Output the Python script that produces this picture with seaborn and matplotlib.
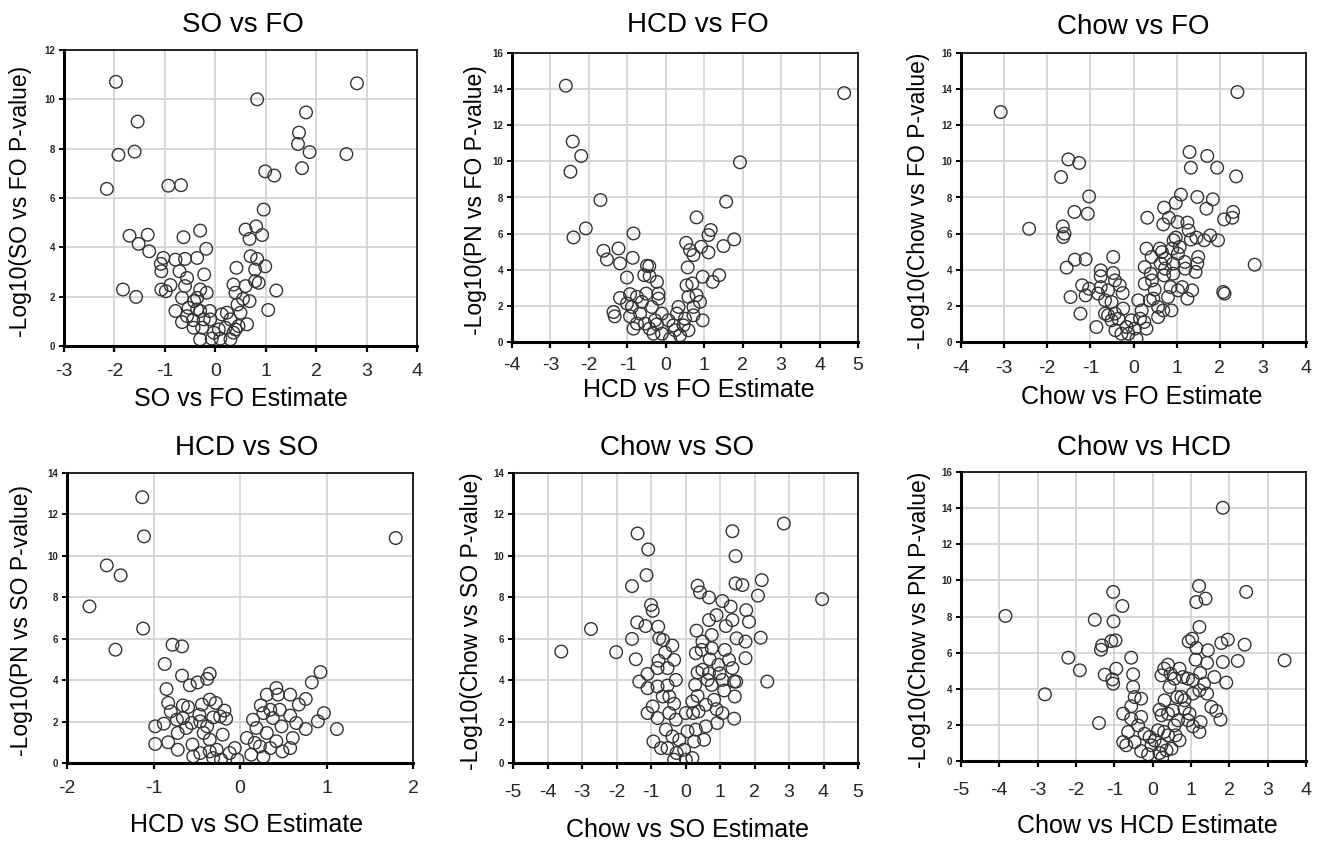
import seaborn as sns
import matplotlib.pyplot as plt
import pandas as pd

# ---- data (estimate, -log10 p) ----
so_fo_est = [-1.97, 2.81, 0.83, -1.54, 1.80, 1.66, 1.64, 1.87, 2.60, 1.72, -1.92, -1.60,
             -2.15, -0.93, -0.68, 0.99, 1.17, 0.96, 0.60, 0.81, 0.68, 0.93, -1.70, -1.34,
             -1.52, -1.31, -0.63, -0.30, -0.18, -1.83, -1.57, -1.03, -1.07, -1.08, -0.79,
             -0.71, -0.60, -0.56, -0.36, -0.22, -0.89, -1.07, -0.98, -0.17, -0.36, -0.42,
             -0.79, -0.66, -0.44, -0.30, -0.11, -0.26, -0.10, -0.30, -0.07, 0.10, 0.13,
             0.30, 0.20, 0.30, 0.36, 0.42, 0.40, 0.60, 0.55, 0.68, 0.44, 0.63, 0.70, 0.83,
             0.79, 0.99, 0.79, 0.86, 1.21, 1.05, -0.03, 0.07, -0.43, -0.56, -0.53, -0.36,
             -0.23, -0.66, -0.60, -0.30, 0.36, 0.46, 0.23, 0.50, 0.40]
so_fo_logp = [10.71, 10.65, 10.0, 9.1, 9.47, 8.65, 8.19, 7.86, 7.78, 7.21, 7.75, 7.88,
              6.37, 6.5, 6.52, 7.08, 6.91, 5.53, 4.72, 4.85, 4.34, 4.5, 4.47, 4.51,
              4.14, 3.84, 4.41, 4.68, 3.94, 2.29, 1.99, 3.57, 3.03, 3.33, 3.5,
              3.03, 3.53, 2.76, 3.57, 2.9, 2.47, 2.29, 2.22, 2.16, 1.95, 1.82,
              1.42, 0.97, 1.05, 1.42, 1.42, 0.74, 1.08, 0.27, 0.3, 0.3, 1.28,
              1.08, 0.74, 0.27, 2.49, 3.17, 2.16, 2.43, 1.91, 1.82, 1.68, 0.88, 3.64, 3.53,
              3.1, 3.23, 2.63, 2.56, 2.25, 1.46, 0.54, 0.67, 0.74, 1.21, 1.55, 1.48,
              1.08, 1.95, 2.43, 2.29, 0.54, 0.81, 1.35, 1.35, 0.67]

hcd_fo_est = [-2.60, 4.64, -2.42, -2.20, -2.48, 1.93, -1.70, 1.57, 0.80, -2.08, -2.40, -0.84,
              1.17, 1.11, 1.78, 1.50, 0.53, 0.63, 0.72, 0.92, 1.11, -1.62, -1.53, -1.23,
              -1.19, -0.86, -1.01, -0.49, -0.43, -0.56, -0.42, -0.23, 0.57, 0.96, 1.39,
              1.22, 0.54, 0.69, -1.19, -0.93, -1.36, -1.33, -0.93, -0.84, -0.75, -0.62,
              -0.51, -0.19, -0.19, -0.10, -0.23, -0.42, -0.32, -0.10, 0.11, 0.20, 0.33,
              0.29, 0.50, 0.59, 0.80, 0.72, 0.89, 0.96, 0.59, 0.37, -0.67, -0.75, -0.54,
              -1.01, -0.88, -0.36, -0.28, 0.07, 0.24, 0.72, 0.46]
hcd_fo_logp = [14.19, 13.78, 11.1, 10.3, 9.43, 9.95, 7.86, 7.77, 6.9, 6.29, 5.79, 6.01,
               6.2, 5.92, 5.68, 5.31, 5.49, 5.09, 4.81, 5.27, 4.96, 5.05, 4.57, 5.18,
               4.35, 4.66, 3.57, 4.22, 4.2, 3.7, 3.64, 3.33, 4.13, 3.61, 3.7,
               3.33, 3.14, 3.24, 2.44, 2.65, 1.66, 1.42, 1.42, 0.74, 2.5, 2.22,
               2.68, 2.68, 2.4, 1.57, 0.98, 0.74, 0.46, 0.46, 0.18, 0.92, 1.94,
               1.57, 1.29, 2.5, 2.59, 1.94, 2.22, 1.2, 0.65, 0.37, 1.57, 1.02, 1.02,
               2.13, 1.94, 1.94, 1.2, 1.2, 0.65, 1.48, 0.92]

chow_fo_est = [-3.08, 2.41, 1.30, 1.71, 1.33, 1.94, 2.38, -1.51, -1.26, -1.68, 1.48, 1.10,
               -1.03, 0.98, 0.71, 1.84, 1.69, 2.31, 2.29, 2.10, -1.37, -1.06, 0.32, 0.82,
               0.69, 1.02, 1.25, 1.28, -2.42, -1.64, -1.60, -1.63, 0.98, 0.93, 1.46, 1.64,
               1.78, 1.96, 1.33, 0.30, 0.61, 0.66, 0.90, 1.07, 0.74, 0.92, 1.19, 1.50,
               1.48, 1.44, 2.81, -0.47, -1.36, -1.11, -1.55, -0.76, -0.76, -0.47, -0.43,
               -0.32, -0.25, -1.19, -1.03, -1.11, -1.46, -1.23, -0.86, -0.66, -0.66, -0.59,
               -0.51, -0.43, -0.51, -0.42, -0.24, -0.28, -0.12, -0.16, 0.07, -0.05, 0.19,
               0.25, 0.30, 0.38, 0.26, 0.43, 0.49, 0.46, 0.57, 0.57, 0.69, 0.71, 0.73,
               0.63, 0.86, 0.80, 0.88, 0.92, 1.03, 1.13, 1.25, 1.36, 1.20, 1.03, 2.11,
               2.08, 0.42, 0.26, 0.40, 0.11, 0.03, 0.15, -0.35, -0.59, -0.82, -0.76]
chow_fo_logp = [12.73, 13.84, 10.52, 10.3, 9.65, 9.65, 9.17, 10.11, 9.91, 9.13, 8.03, 8.16,
                8.06, 7.7, 7.44, 7.9, 7.38, 7.2, 6.88, 6.79, 7.2, 7.1, 6.88, 6.88,
                6.51, 6.64, 6.61, 6.18, 6.27, 6.4, 6.0, 5.81, 5.78, 5.63, 5.78, 5.63,
                5.9, 5.63, 5.67, 5.17, 5.17, 4.98, 5.17, 5.26, 4.61, 4.34, 4.43, 4.71,
                4.34, 3.88, 4.28, 4.71, 4.56, 4.58, 4.12, 3.97, 3.64, 3.82, 3.41,
                3.14, 2.71, 3.14, 2.95, 2.58, 2.49, 1.57, 0.83, 2.31, 1.57, 2.86,
                2.21, 1.57, 1.2, 0.65, 1.85, 0.46, 0.46, 0.83, 0.18, 1.2, 1.75,
                1.11, 0.74, 2.31, 3.23, 3.41, 2.9, 2.4, 1.94, 1.38, 1.75, 3.69, 4.06,
                4.34, 3.04, 2.49, 1.75, 3.78, 2.86, 3.04, 2.4, 2.86, 4.06, 4.89, 2.68,
                2.77, 4.71, 4.15, 3.78, 2.31, 0.74, 1.29, 1.29, 1.48, 2.68, 3.04]

hcd_so_est = [-1.13, -1.11, 1.80, -1.54, -1.38, -1.74, -1.12, -1.44, -0.78, -0.67, -0.87, -0.67,
              -0.58, -0.49, -0.35, -0.38, -0.85, -0.83, -0.80, -0.66, -0.60, -0.44, -0.35,
              -0.28, -0.31, -0.18, -0.16, -0.98, -0.88, -0.98, -0.83, -0.72, -0.72, -0.66,
              -0.56, -0.55, -0.47, -0.42, -0.35, -0.35, -0.27, -0.20, -0.22, -0.12, -0.03,
              -0.06, 0.08, 0.13, 0.17, 0.19, 0.27, 0.31, 0.27, 0.24, 0.31, 0.35, 0.38,
              0.42, 0.42, 0.44, 0.46, 0.48, 0.49, 0.58, 0.58, 0.61, 0.58, 0.68, 0.65,
              0.76, 0.76, 0.83, 0.93, 0.90, 0.97, 1.12, 0.15, 0.23, 0.35, -0.54, -0.46,
              -0.31, -0.73, -0.62, -0.46, -0.23, -0.38]
hcd_so_logp = [12.83, 10.94, 10.86, 9.54, 9.06, 7.56, 6.49, 5.47, 5.71, 5.63, 4.78, 4.22,
               3.75, 3.89, 4.31, 4.06, 3.57, 2.9, 2.49, 2.78, 2.7, 2.82, 3.06,
               2.9, 2.2, 2.53, 2.14, 1.77, 1.9, 0.92, 1.0, 0.64, 1.45, 2.17,
               1.93, 0.89, 2.33, 1.45, 1.13, 0.56, 0.64, 1.37, 0.16, 0.48, 0.16,
               0.72, 1.21, 0.4, 0.97, 1.69, 0.29, 1.45, 2.41, 2.78, 3.3, 2.57, 2.17,
               1.05, 3.62, 3.3, 2.57, 1.77, 0.56, 3.3, 2.29, 1.21, 0.72, 2.82, 1.93,
               3.09, 1.64, 3.89, 4.39, 2.01, 2.41, 1.64, 2.09, 0.8, 0.72, 0.32, 0.48,
               0.24, 2.09, 1.69, 2.01, 2.25, 1.77]

chow_so_est = [-3.60, -2.74, -2.01, 3.96, 2.85, 1.36, 1.45, -1.39, -1.08, -1.13, -1.55, 2.21,
               2.10, 1.45, 1.65, 0.35, 0.42, 0.68, 1.07, 1.31, 1.76, 1.84, 0.90, 0.68,
               1.17, 1.36, -1.00, -0.95, -1.40, -1.16, -0.79, -1.55, -1.44, -0.76, -0.65,
               -0.38, -0.59, -0.33, -0.78, -0.52, -1.10, -1.34, -1.10, -0.81, -0.52, -0.28,
               -0.66, -0.95, -1.10, -0.81, -0.33, -0.28, -0.57, -0.38, -0.93, -0.71, -0.52,
               -0.26, -0.33, 0.01, 0.20, -0.04, 0.25, 0.30, 0.22, 0.38, 0.20, 0.35, 0.28,
               0.35, 0.49, 0.59, 0.59, 0.64, 0.47, 0.32, 0.49, 0.76, 0.76, 0.70, 0.76,
               0.83, 0.90, 0.92, 0.95, 0.99, 1.14, 1.12, 1.07, 1.26, 1.36, 1.41, 1.43,
               1.41, 1.48, 1.74, 1.74, 2.18, 2.37, 1.47, 0.01, 0.06, 0.54, -0.18, -0.47,
               -0.47, -0.81, 0.30, 1.07, 0.68]
chow_so_logp = [5.38, 6.47, 5.35, 7.91, 11.56, 11.19, 9.99, 11.08, 10.31, 9.07, 8.54, 8.83,
                8.08, 8.67, 8.59, 8.56, 8.24, 7.99, 7.82, 7.55, 7.38, 6.82, 7.14, 6.9,
                6.61, 6.9, 7.63, 7.35, 6.79, 6.61, 6.58, 5.99, 5.01, 6.02, 5.94,
                5.67, 5.33, 4.98, 4.94, 4.58, 4.3, 3.93, 3.61, 3.69, 3.74, 4.01,
                3.21, 2.73, 2.41, 2.17, 2.86, 2.09, 1.61, 1.28, 1.04, 0.72, 0.72,
                0.48, 0.16, 0.16, 0.24, 0.64, 1.04, 1.61, 2.41, 2.49, 2.97, 3.24, 3.77,
                4.37, 4.5, 1.77, 2.81, 4.01, 5.46, 6.39, 5.86, 6.18, 5.54, 5.01, 3.77,
                3.05, 2.6, 1.93, 4.74, 4.33, 5.46, 3.5, 2.41, 4.98, 4.58, 3.93, 3.21,
                2.14, 6.02, 5.86, 5.06, 6.05, 3.93, 3.93, 2.41, 1.53, 1.12, 1.12, 2.41,
                3.21, 4.58, 5.3, 4.01, 4.33]

chow_hcd_est = [1.83, -3.84, -2.81, -2.20, -1.90, -1.51, -1.40, -1.03, -0.79, -1.02, -1.32, -1.35,
                -1.08, -0.97, -1.25, -0.95, -1.05, -1.03, -0.56, -0.51, -0.51, -0.47, -0.30,
                -0.56, -0.77, -0.30, -0.64, -0.77, -0.69, -0.47, -0.30, -0.12, -0.21, 0.18,
                0.25, 0.36, 1.21, 1.14, 1.38, 2.44, 1.22, 0.94, 1.03, 1.14, 1.44, 1.79,
                1.96, 2.40, 2.22, 3.44, 1.83, 1.12, 1.42, 1.92, 1.61, 1.24, 1.05, 1.34,
                1.42, 1.66, 1.77, 1.25, 1.22, 1.05, 0.96, 0.83, 0.83, 0.75, 0.70, 0.47,
                0.30, 0.40, 0.23, 0.57, 0.79, 0.92, 0.44, 0.31, 0.18, 0.23, 0.40, 0.53,
                0.64, 0.66, 0.57, 0.60, 0.70, 0.40, 0.30, 0.14, 0.05, 0.49, 1.05, 1.22,
                1.53, 0.92, 0.23, -0.03, -0.08, -0.38, -0.56]
chow_hcd_logp = [14.02, 8.03, 3.69, 5.72, 5.02, 7.82, 2.1, 9.36, 8.58, 7.73, 6.4, 6.16,
                 6.64, 6.68, 4.78, 5.11, 4.52, 4.28, 5.72, 4.8, 4.1, 3.54, 3.45,
                 3.03, 2.62, 2.44, 1.61, 1.05, 0.87, 1.05, 0.55, 0.37, 1.51, 0.44,
                 0.18, 0.59, 9.69, 8.8, 8.99, 9.36, 7.42, 6.62, 6.77, 6.26, 6.13, 6.53,
                 6.72, 6.44, 5.54, 5.57, 5.48, 5.61, 5.43, 4.34, 4.65, 4.87, 4.47, 4.28,
                 3.73, 2.77, 2.29, 2.16, 1.61, 1.92, 2.62, 2.9, 3.36, 3.54, 5.11, 4.83,
                 5.11, 5.33, 4.74, 4.56, 4.65, 4.56, 4.1, 3.36, 2.84, 2.53, 2.62, 2.8,
                 3.54, 2.25, 1.97, 1.42, 1.14, 1.42, 1.61, 1.7, 1.14, 0.68, 3.73, 3.91,
                 2.99, 2.25, 0.87, 0.87, 1.33, 1.97, 2.34]

panels = [
    ('SO vs FO', 'SO vs FO Estimate', '-Log10(SO vs FO P-value)', so_fo_est, so_fo_logp, (-3, 4), 12),
    ('HCD vs FO', 'HCD vs FO Estimate', '-Log10(PN vs FO P-value)', hcd_fo_est, hcd_fo_logp, (-4, 5), 16),
    ('Chow vs FO', 'Chow vs FO Estimate', '-Log10(Chow vs FO P-value)', chow_fo_est, chow_fo_logp, (-4, 4), 16),
    ('HCD vs SO', 'HCD vs SO Estimate', '-Log10(PN vs SO P-value)', hcd_so_est, hcd_so_logp, (-2, 2), 14),
    ('Chow vs SO', 'Chow vs SO Estimate', '-Log10(Chow vs SO P-value)', chow_so_est, chow_so_logp, (-5, 5), 14),
    ('Chow vs HCD', 'Chow vs HCD Estimate', '-Log10(Chow vs PN P-value)', chow_hcd_est, chow_hcd_logp, (-5, 4), 16),
]

# axes boxes in pixels: left, right, top, bottom
boxes = [(64, 417, 50, 346), (512, 858, 53, 342), (961, 1306, 53, 342),
         (67, 413, 473, 763), (513, 858, 473, 763), (961, 1306, 472, 761)]
# title anchor (x, y) and label coords in axes fractions
title_pos = [(0.507, 1.061), (0.538, 1.073), (0.50, 1.066),
             (0.52, 1.062), (0.475, 1.062), (0.53, 1.059)]
xlabel_pos = [(0.50, -0.140), (0.54, -0.126), (0.525, -0.150),
              (0.52, -0.174), (0.505, -0.188), (0.54, -0.182)]
ylabel_x = [-0.09, -0.072, -0.09, -0.098, -0.087, -0.087]
xtick_pad = [8, 7, 9, 8, 11, 11]

W, H = 1318, 847

sns.set_theme(style='whitegrid')
plt.rcParams['font.family'] = ['Liberation Sans', 'DejaVu Sans']
plt.rcParams['axes.unicode_minus'] = False

fig = plt.figure(figsize=(W / 100, H / 100), dpi=100)

for i, (title, xlab, ylab, xs, ys, xlim, ymax) in enumerate(panels):
    l, r, t, b = boxes[i]
    ax = fig.add_axes([l / W, 1 - b / H, (r - l) / W, (b - t) / H])
    df = pd.DataFrame({'est': xs, 'logp': ys})
    sns.scatterplot(data=df, x='est', y='logp', ax=ax, s=82, marker='o',
                    facecolor='none', edgecolor='#333333', linewidth=1.0)
    ax.set_xlim(*xlim)
    ax.set_ylim(0, ymax)
    ax.set_xticks(range(xlim[0], xlim[1] + 1))
    ax.set_yticks(range(0, ymax + 1, 2))
    ax.grid(True, color='#d4d4d4', linewidth=1.3)
    for side, sp in ax.spines.items():
        sp.set_visible(True)
        sp.set_color('black')
        sp.set_linewidth(2.2 if side in ('left', 'bottom') else 1.2)
    ax.tick_params(axis='x', length=4, width=1.6, color='black', direction='out',
                   labelsize=14, pad=xtick_pad[i], bottom=True)
    ax.tick_params(axis='y', length=3.5, width=1.4, color='black', direction='out',
                   labelsize=7, pad=3, left=True)
    for lab in ax.get_yticklabels():
        lab.set_fontweight('bold')
    ax.text(title_pos[i][0], title_pos[i][1], title, transform=ax.transAxes,
            ha='center', va='baseline', fontsize=20, color='black')
    ax.set_xlabel(xlab, fontsize=18, color='black')
    ax.xaxis.set_label_coords(*xlabel_pos[i])
    ax.set_ylabel(ylab, fontsize=16.5, color='black')
    ax.yaxis.set_label_coords(ylabel_x[i], 0.49)

fig.savefig('out.png', dpi=100)
